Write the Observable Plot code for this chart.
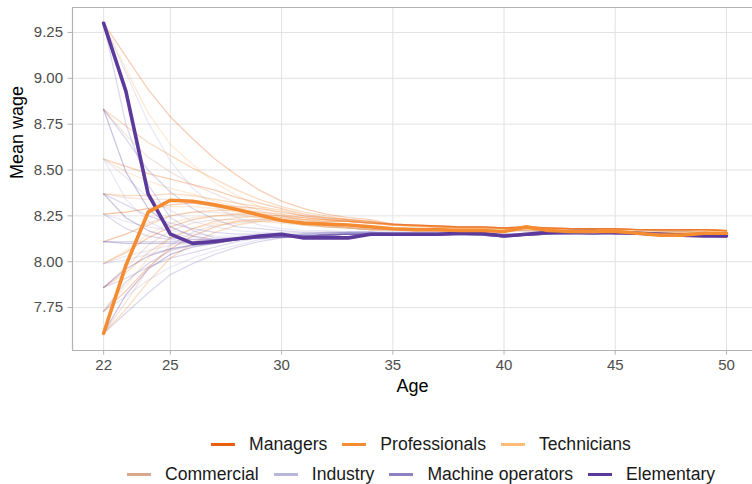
<!DOCTYPE html>
<html>
<head>
<meta charset="utf-8">
<script src="https://cdn.jsdelivr.net/npm/d3@7"></script>
<script src="https://cdn.jsdelivr.net/npm/@observablehq/plot@0.6"></script>
<style>
  html, body { margin: 0; padding: 0; background: #fff; overflow: hidden; }
  body { width: 752px; height: 484px; position: relative; font-family: "Liberation Sans", Arial, sans-serif; }
  #chart svg g[aria-label="x-axis tick"], #chart svg g[aria-label="y-axis tick"] { stroke: #b3b3b3; }
  #chart svg g[aria-label="x-axis tick label"], #chart svg g[aria-label="y-axis tick label"] { fill: #4d4d4d; }
  #legend { position: absolute; left: 1px; top: 429px; width: 840px; font-size: 17.6px; color: #1a1a1a; }
  .row { display: flex; justify-content: center; align-items: center; height: 30px; }
  .item { display: flex; align-items: center; margin: 0 7.5px; }
  .sw { width: 24px; height: 3px; margin-right: 14px; }
</style>
</head>
<body>
<div id="chart"></div>
<div id="legend"></div>
<script>
// ---- data ----
const ages = [22,23,24,25,26,27,28,29,30,31,32,33,34,35,36,37,38,39,40,41,42,43,44,45,46,47,48,49,50];
const categories = ["Managers","Professionals","Technicians","Commercial","Industry","Machine operators","Elementary"];
const catColors = ["#e8600f","#f58c32","#fdbd79","#d6a98f","#b9b6de","#8f80c4","#5b3a9b"];
const legendRow1 = ["Managers","Professionals","Technicians"];
const legendRow2 = ["Commercial","Industry","Machine operators","Elementary"];
const xTicks = [22,25,30,35,40,45,50];
const yTicks = [7.75,8.00,8.25,8.50,8.75,9.00,9.25];

// highlighted series (ages 22..50)
const elementaryMean = [9.30,8.93,8.37,8.15,8.10,8.11,8.125,8.14,8.15,8.13,8.13,8.13,8.15,8.15,8.15,8.15,8.155,8.155,8.14,8.15,8.16,8.165,8.165,8.16,8.155,8.15,8.145,8.14,8.14];
const professionalsMean = [7.61,7.98,8.27,8.335,8.33,8.31,8.285,8.255,8.225,8.21,8.205,8.20,8.19,8.18,8.175,8.175,8.17,8.17,8.165,8.19,8.17,8.165,8.165,8.165,8.155,8.145,8.145,8.155,8.155];

// faint trajectories: early part (ages 22..34)
const orangeSlowHeads = [
  [9.30,9.12,8.94,8.79,8.67,8.56,8.47,8.39,8.33,8.29,8.26,8.24,8.23],
  [8.83,8.74,8.65,8.58,8.51,8.45,8.39,8.34,8.30,8.27,8.25,8.23,8.22],
  [8.56,8.52,8.48,8.45,8.42,8.39,8.35,8.32,8.29,8.26,8.24,8.23,8.22],
  [8.37,8.36,8.36,8.37,8.36,8.34,8.32,8.30,8.28,8.25,8.24,8.23,8.22],
  [8.26,8.27,8.29,8.31,8.32,8.31,8.30,8.29,8.27,8.25,8.235,8.225,8.215],
  [8.11,8.15,8.20,8.25,8.27,8.28,8.28,8.27,8.26,8.24,8.23,8.22,8.21],
  [7.99,8.05,8.13,8.19,8.23,8.25,8.26,8.26,8.25,8.24,8.23,8.22,8.21],
  [7.86,7.94,8.05,8.13,8.18,8.22,8.24,8.25,8.25,8.23,8.23,8.22,8.21],
  [7.73,7.84,7.97,8.07,8.14,8.19,8.22,8.23,8.24,8.23,8.22,8.22,8.21],
  [7.61,7.74,7.89,8.02,8.10,8.16,8.20,8.22,8.23,8.22,8.22,8.22,8.21]
];
const orangeMedHeads = [
  [9.30,9.05,8.81,8.64,8.53,8.43,8.36,8.30,8.26,8.23,8.21,8.185,8.175],
  [8.83,8.69,8.57,8.49,8.42,8.37,8.32,8.28,8.25,8.22,8.20,8.185,8.175],
  [8.56,8.49,8.44,8.40,8.37,8.33,8.30,8.27,8.24,8.22,8.20,8.185,8.175],
  [8.37,8.35,8.34,8.34,8.32,8.30,8.28,8.26,8.23,8.21,8.20,8.185,8.175],
  [8.26,8.27,8.29,8.30,8.30,8.29,8.27,8.25,8.23,8.21,8.195,8.185,8.175],
  [8.11,8.15,8.21,8.25,8.27,8.27,8.26,8.24,8.23,8.21,8.19,8.185,8.175],
  [7.99,8.06,8.15,8.21,8.24,8.25,8.25,8.24,8.22,8.21,8.19,8.185,8.175],
  [7.86,7.97,8.09,8.17,8.21,8.23,8.23,8.23,8.22,8.20,8.19,8.185,8.175],
  [7.73,7.87,8.02,8.13,8.18,8.21,8.22,8.22,8.22,8.20,8.19,8.185,8.175],
  [7.61,7.78,7.96,8.09,8.16,8.20,8.21,8.22,8.21,8.20,8.19,8.185,8.175]
];
const purpleSlowHeads = [
  [9.30,9.03,8.76,8.55,8.40,8.30,8.24,8.20,8.18,8.17,8.17,8.16,8.16],
  [8.83,8.67,8.50,8.38,8.29,8.23,8.19,8.18,8.17,8.16,8.16,8.16,8.16],
  [8.56,8.46,8.35,8.28,8.22,8.19,8.17,8.16,8.16,8.16,8.16,8.16,8.16],
  [8.37,8.31,8.25,8.21,8.18,8.16,8.15,8.15,8.15,8.15,8.16,8.16,8.16],
  [8.26,8.22,8.19,8.17,8.15,8.14,8.14,8.15,8.15,8.15,8.16,8.16,8.16],
  [8.11,8.11,8.11,8.11,8.11,8.12,8.13,8.14,8.14,8.15,8.155,8.16,8.16],
  [7.99,8.01,8.04,8.07,8.09,8.10,8.12,8.13,8.14,8.15,8.15,8.16,8.16],
  [7.86,7.91,7.97,8.02,8.05,8.08,8.11,8.13,8.14,8.15,8.15,8.16,8.16],
  [7.73,7.81,7.90,7.97,8.02,8.06,8.09,8.12,8.13,8.14,8.15,8.16,8.16],
  [7.61,7.72,7.83,7.93,7.99,8.04,8.08,8.11,8.13,8.14,8.15,8.16,8.16]
];
const purpleFastHeads = [
  [9.30,8.75,8.42,8.24,8.17,8.13,8.13,8.13,8.135,8.14,8.145,8.15,8.15],
  [8.83,8.49,8.29,8.19,8.14,8.12,8.13,8.13,8.135,8.14,8.145,8.15,8.15],
  [8.56,8.34,8.22,8.16,8.13,8.12,8.12,8.13,8.135,8.14,8.145,8.15,8.15],
  [8.37,8.24,8.17,8.13,8.12,8.12,8.12,8.13,8.135,8.14,8.145,8.15,8.15],
  [8.26,8.18,8.14,8.12,8.11,8.11,8.12,8.13,8.135,8.14,8.145,8.15,8.15],
  [8.11,8.10,8.10,8.10,8.105,8.11,8.12,8.13,8.135,8.14,8.145,8.15,8.15],
  [7.99,8.03,8.06,8.09,8.10,8.11,8.12,8.13,8.135,8.14,8.145,8.15,8.15],
  [7.86,7.96,8.03,8.07,8.09,8.10,8.12,8.13,8.135,8.14,8.145,8.15,8.15],
  [7.73,7.89,7.99,8.06,8.09,8.10,8.12,8.13,8.135,8.14,8.145,8.15,8.15],
  [7.61,7.82,7.96,8.04,8.08,8.10,8.12,8.13,8.135,8.14,8.145,8.15,8.15]
];
// faint trajectories: later part (ages 35..50)
const orangeSlowTailA = [8.205,8.20,8.195,8.19,8.19,8.185,8.19,8.185,8.18,8.18,8.18,8.175,8.175,8.175,8.175,8.17];
const orangeSlowTailB = [8.20,8.195,8.19,8.185,8.185,8.18,8.185,8.18,8.18,8.175,8.175,8.175,8.17,8.17,8.175,8.17];
const orangeMedTailA = [8.175,8.175,8.17,8.17,8.17,8.165,8.175,8.17,8.165,8.165,8.165,8.16,8.16,8.16,8.16,8.16];
const orangeMedTailB = [8.175,8.17,8.17,8.165,8.165,8.17,8.17,8.165,8.165,8.17,8.165,8.16,8.16,8.165,8.16,8.155];
const purpleSlowTailA = [8.16,8.16,8.16,8.155,8.155,8.15,8.155,8.16,8.155,8.155,8.155,8.155,8.15,8.15,8.15,8.15];
const purpleSlowTailB = [8.155,8.155,8.155,8.155,8.155,8.145,8.15,8.155,8.16,8.155,8.16,8.155,8.155,8.15,8.145,8.145];
const purpleFastTailA = [8.15,8.145,8.15,8.145,8.145,8.14,8.145,8.15,8.15,8.155,8.15,8.15,8.145,8.145,8.14,8.14];
const purpleFastTailB = [8.145,8.15,8.145,8.15,8.145,8.135,8.145,8.15,8.155,8.15,8.155,8.15,8.145,8.145,8.14,8.135];

const orangeSlowCats = ["Managers","Professionals","Managers","Professionals","Managers","Professionals","Managers","Professionals","Managers","Professionals"];
const orangeMedCats = ["Technicians","Commercial","Technicians","Commercial","Technicians","Commercial","Technicians","Commercial","Technicians","Commercial"];
const purpleSlowCats = ["Industry","Machine operators","Industry","Machine operators","Industry","Machine operators","Industry","Machine operators","Industry","Machine operators"];
const purpleFastCats = ["Machine operators","Elementary","Industry","Elementary","Machine operators","Elementary","Industry","Elementary","Machine operators","Elementary"];

// ---- build tables ----
const faint = [];
function addGroup(name, heads, tailA, tailB, cats) {
  heads.forEach((h, i) => {
    const vals = h.concat(i % 2 === 0 ? tailA : tailB);
    vals.forEach((v, j) => faint.push({id: name + i, cat: cats[i], age: ages[j], value: v}));
  });
}
addGroup("os", orangeSlowHeads, orangeSlowTailA, orangeSlowTailB, orangeSlowCats);
addGroup("om", orangeMedHeads, orangeMedTailA, orangeMedTailB, orangeMedCats);
addGroup("ps", purpleSlowHeads, purpleSlowTailA, purpleSlowTailB, purpleSlowCats);
addGroup("pf", purpleFastHeads, purpleFastTailA, purpleFastTailB, purpleFastCats);

const boldElem = elementaryMean.map((v, j) => ({cat: "Elementary", age: ages[j], value: v}));
const boldProf = professionalsMean.map((v, j) => ({cat: "Professionals", age: ages[j], value: v}));

const xDomain = [20.6, 51.17];
const yDomain = [7.516, 9.386];
const font = '"Liberation Sans", Arial, sans-serif';

const chart = Plot.plot({
  width: 752, height: 400,
  marginLeft: 72, marginRight: 0, marginTop: 7, marginBottom: 50,
  x: {domain: xDomain, ticks: xTicks, tickSize: 4.5, tickPadding: 4, label: null},
  y: {domain: yDomain, ticks: yTicks, tickSize: 4.5, tickPadding: 5, tickFormat: d3.format(".2f"), label: null},
  color: {domain: categories, range: catColors},
  style: {fontFamily: font, fontSize: "15px", background: "white", overflow: "hidden"},
  marks: [
    Plot.ruleY(yTicks, {stroke: "#e2e2e2", strokeWidth: 1}),
    Plot.ruleX(xTicks, {stroke: "#e2e2e2", strokeWidth: 1}),
    Plot.line(faint, {x: "age", y: "value", z: "id", stroke: "cat", strokeOpacity: 0.3, strokeWidth: 1.3}),
    Plot.line(boldElem, {x: "age", y: "value", stroke: "cat", strokeWidth: 3.6}),
    Plot.line(boldProf, {x: "age", y: "value", stroke: "cat", strokeWidth: 3.6}),
    Plot.ruleX([xDomain[0]], {stroke: "#b3b3b3", strokeWidth: 1.2}),
    Plot.ruleY(yDomain, {stroke: "#b3b3b3", strokeWidth: 1.2}),
    Plot.text(["Age"], {text: d => d, frameAnchor: "bottom", dy: 36, fontSize: 18, fill: "#000", lineAnchor: "middle"}),
    Plot.text(["Mean wage"], {text: d => d, frameAnchor: "left", dx: -55, rotate: -90, fontSize: 18, fill: "#000", lineAnchor: "middle"})
  ]
});
document.getElementById("chart").appendChild(chart);

// ---- legend ----
const legend = document.getElementById("legend");
[legendRow1, legendRow2].forEach(row => {
  const r = document.createElement("div");
  r.className = "row";
  row.forEach(name => {
    const it = document.createElement("div");
    it.className = "item";
    const sw = document.createElement("span");
    sw.className = "sw";
    sw.style.background = catColors[categories.indexOf(name)];
    const t = document.createElement("span");
    t.textContent = name;
    it.appendChild(sw); it.appendChild(t);
    r.appendChild(it);
  });
  legend.appendChild(r);
});
</script>
</body>
</html>
